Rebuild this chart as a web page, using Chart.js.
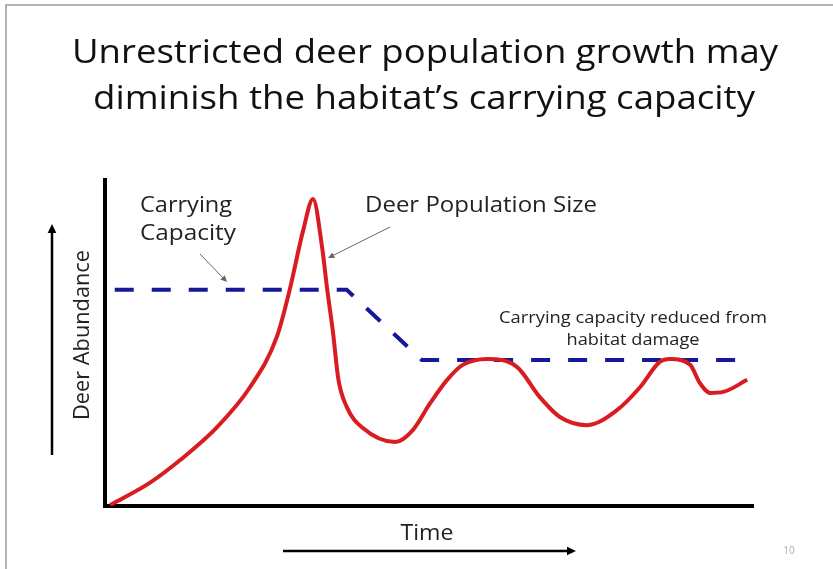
<!DOCTYPE html>
<html>
<head>
<meta charset="utf-8">
<script src="https://cdn.jsdelivr.net/npm/chart.js@4/dist/chart.umd.min.js"></script>
<style>
    body { margin: 0; background: #fff; }
    canvas { display: block; }
</style>
</head>
<body>
<canvas id="deerChart" width="833" height="569"></canvas>
<script>
// Deer population (red curve) in arbitrary time / abundance units
var popTime = [0.8, 6.9, 11.6, 17.3, 22.4, 26.5, 28.5, 30.6, 32.1, 33.5, 34.3, 35.2, 36.0, 37.3, 39.8, 44.8, 47.5, 50.2, 52.8, 55.2, 59.0, 63.6, 67.1, 70.2, 74.4, 79.0, 82.6, 85.6, 87.2, 90.3, 91.8, 93.4, 95.4, 99.1];
var popSize = [0.3, 7.1, 14.1, 24.2, 36.5, 51.8, 66.3, 84.7, 94.2, 79.4, 66.3, 53.0, 39.0, 30.4, 23.9, 19.6, 23.3, 31.6, 38.7, 43.3, 45.1, 42.6, 33.4, 27.3, 24.8, 29.4, 36.5, 44.2, 45.1, 43.3, 37.7, 34.7, 35.0, 38.7];

// Carrying capacity (blue dashed line)
var capTime = [1.5, 37.3, 48.9, 98.0];
var capSize = [66.3, 66.3, 44.8, 44.8];

var titleLines = ['Unrestricted deer population growth may', 'diminish the habitat\u2019s carrying capacity'];

function toPoints(xs, ys) {
    return xs.map(function (x, i) { return { x: x, y: ys[i] }; });
}

// draw text squeezed/stretched to a given width (the slide font is wider than ours)
function fitText(ctx, text, x, y, width, align) {
    var w = ctx.measureText(text).width;
    var k = width / w;
    ctx.save();
    ctx.textAlign = 'left';
    var left = align === 'center' ? x - width / 2 : x;
    ctx.translate(left, y);
    ctx.scale(k, 1);
    ctx.fillText(text, 0, 0);
    ctx.restore();
}

function arrow(ctx, x1, y1, x2, y2, color, width, head) {
    var ang = Math.atan2(y2 - y1, x2 - x1);
    ctx.save();
    ctx.strokeStyle = color;
    ctx.fillStyle = color;
    ctx.lineWidth = width;
    ctx.beginPath();
    ctx.moveTo(x1, y1);
    ctx.lineTo(x2 - Math.cos(ang) * head * 0.8, y2 - Math.sin(ang) * head * 0.8);
    ctx.stroke();
    ctx.beginPath();
    ctx.moveTo(x2, y2);
    ctx.lineTo(x2 - head * Math.cos(ang - 0.45), y2 - head * Math.sin(ang - 0.45));
    ctx.lineTo(x2 - head * Math.cos(ang + 0.45), y2 - head * Math.sin(ang + 0.45));
    ctx.closePath();
    ctx.fill();
    ctx.restore();
}

// Slide decorations: frame, title, axis names, arrows and notes
var slidePlugin = {
    id: 'slide',
    afterDraw: function (chart) {
        var ctx = chart.ctx;
        ctx.save();
        // slide frame
        ctx.strokeStyle = '#9a9a9a';
        ctx.lineWidth = 1.5;
        ctx.beginPath();
        ctx.moveTo(6, 569);
        ctx.lineTo(6, 5);
        ctx.lineTo(833, 5);
        ctx.stroke();

        ctx.fillStyle = '#111';
        ctx.textBaseline = 'alphabetic';
        ctx.font = '32px "Open Sans"';
        fitText(ctx, titleLines[0], 425, 63, 706, 'center');
        fitText(ctx, titleLines[1], 424, 109, 662, 'center');

        ctx.font = '21px "Open Sans"';
        ctx.fillStyle = '#222';
        fitText(ctx, 'Time', 427, 540, 53, 'center');

        ctx.save();
        ctx.translate(89, 335);
        ctx.rotate(-Math.PI / 2);
        fitText(ctx, 'Deer Abundance', 0, 0, 170, 'center');
        ctx.restore();

        fitText(ctx, 'Carrying', 140, 212, 92, 'left');
        fitText(ctx, 'Capacity', 140, 240, 96, 'left');
        fitText(ctx, 'Deer Population Size', 365, 212, 232, 'left');

        ctx.font = '17px "Open Sans"';
        fitText(ctx, 'Carrying capacity reduced from', 633, 323, 268, 'center');
        fitText(ctx, 'habitat damage', 633, 345, 133, 'center');

        ctx.font = '10px "Open Sans"';
        ctx.fillStyle = '#aaa';
        ctx.textAlign = 'center';
        ctx.fillText('10', 789, 554);

        // big axis arrows
        arrow(ctx, 52, 455, 52, 224, '#000', 2.5, 10);
        arrow(ctx, 283, 551, 576, 551, '#000', 2.5, 10);
        // annotation pointers
        arrow(ctx, 200, 254, 227, 282, '#666', 1, 7);
        arrow(ctx, 390, 227, 328, 258, '#666', 1, 7);
        ctx.restore();
    }
};

var ctx = document.getElementById('deerChart').getContext('2d');
var deerChart = new Chart(ctx, {
    type: 'line',
    data: {
        datasets: [{
            label: 'Deer Population Size',
            data: toPoints(popTime, popSize),
            borderColor: '#d81c22',
            borderWidth: 4,
            pointRadius: 0,
            cubicInterpolationMode: 'monotone',
            fill: false
        },
        {
            label: 'Carrying Capacity',
            data: toPoints(capTime, capSize),
            borderColor: '#17179a',
            borderWidth: 4,
            borderDash: [19, 18],
            pointRadius: 0,
            tension: 0,
            fill: false
        }]
    },
    options: {
        responsive: false,
        animation: false,
        layout: {
            padding: { left: 105, right: 80, top: 180, bottom: 63 }
        },
        plugins: {
            legend: { display: false },
            tooltip: { enabled: false }
        },
        scales: {
            x: {
                type: 'linear',
                min: 0,
                max: 100,
                ticks: { display: false },
                grid: { display: false },
                border: { display: true, color: '#000', width: 4 },
                afterFit: function (scale) { scale.height = 0; }
            },
            y: {
                min: 0,
                max: 100,
                ticks: { display: false },
                grid: { display: false },
                border: { display: true, color: '#000', width: 4 },
                afterFit: function (scale) { scale.width = 0; }
            }
        }
    },
    plugins: [slidePlugin]
});
</script>
</body>
</html>
